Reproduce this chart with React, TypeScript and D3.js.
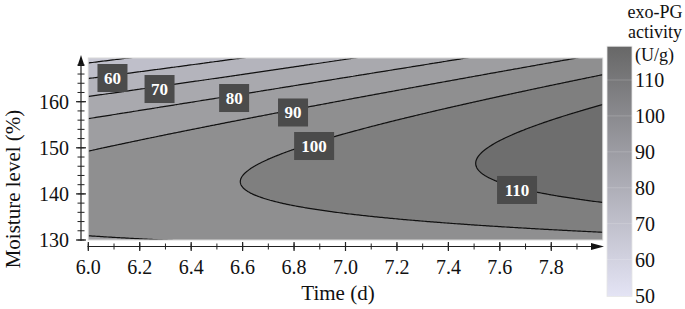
import React, { useMemo } from "react";
import * as d3 from "d3";

// Axis ticks
const timeTicks = [6.0, 6.2, 6.4, 6.6, 6.8, 7.0, 7.2, 7.4, 7.6, 7.8];
const moistureTicks = [130, 140, 150, 160];
// Contour levels and band fills (band i = values between level i-1 and level i)
const contourLevels = [50, 60, 70, 80, 90, 100, 110];
const bandColors = ["#cacad6", "#bfbfca", "#b4b4bc", "#a9a9ae", "#9e9ea1", "#8f8f90", "#7f7f7f", "#6e6e6e"];
// Contour labels
const labelLevels = [60, 70, 80, 90, 100, 110];
const labelTimes = [6.094, 6.277, 6.567, 6.796, 6.878, 7.667];
const labelMoistures = [165.14, 162.75, 160.8, 157.66, 150.39, 140.85];
// Legend
const legendTicks = [50, 60, 70, 80, 90, 100, 110];
const legendRange = [50, 119.4];
// Response surface model (quadratic): b0, b_t, b_m, b_tt, b_mm, b_tm on centred variables
const modelCenter = [7, 144.43];
const modelCoefficients = [104.2, 10.8, 0, 0.2514, -0.0558, 0.4838];

const font = "'Liberation Serif', 'Times New Roman', serif";

function activity(t: number, m: number) {
  const s = t - modelCenter[0];
  const v = m - modelCenter[1];
  const [b0, b1, b2, b11, b22, b12] = modelCoefficients;
  return b0 + b1 * s + b2 * v + b11 * s * s + b22 * v * v + b12 * s * v;
}

export default function App() {
  const x = d3.scaleLinear().domain([6, 8]).range([88.3, 602.7]);
  const y = d3.scaleLinear().domain([130, 169.48]).range([240, 58]);
  const ly = d3.scaleLinear().domain([50, 110]).range([295.5, 80]);

  const { bands, path } = useMemo(() => {
    const nx = 320, ny = 260;
    const t0 = 5.95, t1 = 8.05, mTop = 171, mBot = 128;
    const dt = (t1 - t0) / (nx - 1);
    const dm = (mTop - mBot) / (ny - 1);
    const values = new Array(nx * ny);
    for (let j = 0; j < ny; j++) {
      for (let i = 0; i < nx; i++) {
        values[j * nx + i] = activity(t0 + i * dt, mTop - j * dm);
      }
    }
    const bands = d3.contours().size([nx, ny]).thresholds(contourLevels)(values);
    const proj = d3.geoTransform({
      point(px: number, py: number) {
        const t = t0 + (px - 0.5) * dt;
        const m = mTop - (py - 0.5) * dm;
        (this as any).stream.point(x(t), y(m));
      },
    });
    return { bands, path: d3.geoPath(proj) };
  }, []);

  const xMinor = d3.range(6.0, 7.95, 0.1);
  const yMinor = d3.range(130, 169, 2);

  return (
    <svg width={685} height={309} style={{ position: "absolute", left: 0, top: 0 }} fontFamily={font}>
      <defs>
        <clipPath id="plotClip">
          <rect x={x(6)} y={y(169.48)} width={x(8) - x(6)} height={y(130) - y(169.48)} />
        </clipPath>
        <linearGradient id="legGrad" x1="0" y1="1" x2="0" y2="0">
          <stop offset="0%" stopColor="#e4e4f5" />
          <stop offset="50%" stopColor="#a6a6ae" />
          <stop offset="100%" stopColor="#676767" />
        </linearGradient>
      </defs>

      {/* filled contour bands */}
      <g clipPath="url(#plotClip)">
        <rect x={x(6)} y={y(169.48)} width={x(8) - x(6)} height={y(130) - y(169.48)} fill={bandColors[0]} />
        {bands.map((b, i) => (
          <path key={"f" + i} d={path(b as any) || ""} fill={bandColors[i + 1]} stroke="none" />
        ))}
        {bands.map((b, i) => (
          <path key={"s" + i} d={path(b as any) || ""} fill="none" stroke="#111" strokeWidth={1.2} />
        ))}
      </g>
      <rect x={x(6)} y={y(169.48)} width={x(8) - x(6)} height={y(130) - y(169.48)} fill="none" stroke="#d8d8d8" strokeWidth={1} />

      {/* contour labels */}
      {labelLevels.map((lv, i) => {
        const cx = x(labelTimes[i]);
        const cy = y(labelMoistures[i]);
        const w = lv >= 100 ? 40 : 30;
        return (
          <g key={"l" + i}>
            <rect x={cx - w / 2} y={cy - 14} width={w} height={28} fill="#4b4b4b" />
            <text x={cx} y={cy} dy="0.35em" textAnchor="middle" fill="#fff" fontWeight="bold" fontSize={17}>
              {lv}
            </text>
          </g>
        );
      })}

      {/* y axis */}
      <line x1={81} x2={81} y1={241} y2={62} stroke="#222" strokeWidth={1.2} />
      <polygon points="81,55 77.5,66 84.5,66" fill="#111" />
      {yMinor.map((v, i) => (
        <line key={"ym" + i} x1={77.5} x2={84.5} y1={y(v)} y2={y(v)} stroke="#222" strokeWidth={1} />
      ))}
      {moistureTicks.map((v) => (
        <g key={"yt" + v}>
          <line x1={76} x2={86} y1={y(v)} y2={y(v)} stroke="#222" strokeWidth={1.2} />
          <text x={69} y={y(v)} dy="0.35em" textAnchor="end" fontSize={20} fill="#111">
            {v}
          </text>
        </g>
      ))}

      {/* x axis */}
      <line x1={87.5} x2={594} y1={246.5} y2={246.5} stroke="#222" strokeWidth={1.2} />
      <polygon points="604,246.5 591,243 591,250" fill="#111" />
      {xMinor.map((v, i) => (
        <line key={"xm" + i} x1={x(v)} x2={x(v)} y1={243.5} y2={249.5} stroke="#222" strokeWidth={1} />
      ))}
      {timeTicks.map((v) => (
        <g key={"xt" + v}>
          <line x1={x(v)} x2={x(v)} y1={242} y2={251} stroke="#222" strokeWidth={1.2} />
          <text x={x(v)} y={274} textAnchor="middle" fontSize={20} fill="#111">
            {v.toFixed(1)}
          </text>
        </g>
      ))}

      {/* axis titles */}
      <text x={338} y={300} textAnchor="middle" fontSize={21} fill="#111">
        Time (d)
      </text>
      <text transform="translate(20,189) rotate(-90)" textAnchor="middle" fontSize={21} fill="#111">
        Moisture level (%)
      </text>

      {/* legend */}
      <rect x={607} y={ly(legendRange[1])} width={25} height={ly(legendRange[0]) - ly(legendRange[1]) + 1} fill="url(#legGrad)" stroke="#e6e6e6" strokeWidth={0.8} />
      {legendTicks.slice(1).map((v) => (
        <line key={"lg" + v} x1={607} x2={632} y1={ly(v)} y2={ly(v)} stroke="#ffffff" strokeOpacity={0.18} strokeWidth={1} />
      ))}
      {legendTicks.map((v) => (
        <text key={"lt" + v} x={635} y={ly(v)} dy="0.35em" fontSize={20} fill="#111">
          {v}
        </text>
      ))}
      <text x={655} y={18} textAnchor="middle" fontSize={18} fill="#111">exo-PG</text>
      <text x={655} y={38} textAnchor="middle" fontSize={18} fill="#111">activity</text>
      <text x={635} y={61} fontSize={18} fill="#111">(U/g)</text>
    </svg>
  );
}
